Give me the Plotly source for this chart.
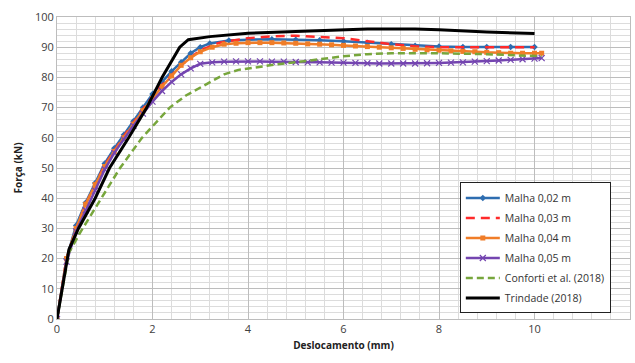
import plotly.graph_objects as go

# ---- data ----
x_m02 = [0, 0.2, 0.4, 0.6, 0.8, 1.0, 1.2, 1.4, 1.6, 1.8, 2.0, 2.2, 2.4, 2.6, 2.8, 3.0, 3.2,
         3.6, 4.0, 4.5, 5.0, 5.5, 6.0, 6.5, 7.0, 7.5, 8.0, 8.5, 9.0, 9.5, 10.0]
y_m02 = [0, 20, 31, 38.5, 45, 51.5, 56.5, 61, 65.5, 70, 74.5, 78.5, 82, 85, 88, 90, 91.2,
         92.2, 92.5, 92.6, 92.5, 92.3, 92.0, 91.5, 91.0, 90.5, 90.2, 90.1, 90.1, 90.1, 90.1]

x_m03 = [0, 0.2, 0.4, 0.6, 0.8, 1.0, 1.4, 1.8, 2.2, 2.6, 3.0, 3.4, 4.0, 4.5, 5.0, 5.5,
         6.0, 6.5, 7.0, 7.5, 8.0, 9.0, 10.0]
y_m03 = [0, 20, 30, 38, 44.5, 51, 60.5, 69.5, 77.5, 84, 89, 91.5, 93, 93.6, 93.8, 93.5,
         93, 92, 91, 90.3, 90, 90, 90]

x_m04 = [0, 0.2, 0.4, 0.6, 0.8, 1.0, 1.2, 1.4, 1.6, 1.8, 2.0, 2.2, 2.4, 2.6, 2.8, 3.0,
         3.25, 3.5, 3.75, 4.0, 4.25, 4.5, 4.75, 5.0, 5.25, 5.5, 5.75, 6.0, 6.25, 6.5, 6.75,
         7.0, 7.25, 7.5, 7.75, 8.0, 8.25, 8.5, 8.75, 9.0, 9.25, 9.5, 9.75, 10.0, 10.15]
y_m04 = [0, 20, 30, 38, 44.5, 50.5, 55.5, 60, 64.5, 69, 73, 77, 80.5, 84, 86.5, 88.5,
         90, 91, 91.3, 91.5, 91.5, 91.5, 91.4, 91.3, 91.1, 91, 90.8, 90.6, 90.4, 90.2, 90,
         89.8, 89.6, 89.3, 89.1, 89, 88.8, 88.6, 88.5, 88.3, 88.2, 88, 88, 88, 88]

x_m05 = [0, 0.2, 0.4, 0.6, 0.8, 1.0, 1.2, 1.4, 1.6, 1.8, 2.0, 2.2, 2.4, 2.6, 2.8, 3.0,
         3.25, 3.5, 3.75, 4.0, 4.25, 4.5, 4.75, 5.0, 5.25, 5.5, 5.75, 6.0, 6.25, 6.5, 6.75,
         7.0, 7.25, 7.5, 7.75, 8.0, 8.25, 8.5, 8.75, 9.0, 9.25, 9.5, 9.75, 10.0, 10.15]
y_m05 = [0, 19, 29, 36, 42.5, 49.5, 55, 59.5, 64, 68, 72, 75.5, 78.5, 81, 83, 84.5,
         85, 85.2, 85.3, 85.3, 85.3, 85.2, 85.2, 85.1, 85, 85, 84.9, 84.9, 84.8, 84.7, 84.6,
         84.6, 84.6, 84.6, 84.7, 84.8, 84.9, 85, 85.2, 85.4, 85.6, 85.8, 86, 86.2, 86.4]

x_conf = [0, 0.25, 0.5, 0.93, 1.32, 1.78, 2.36, 2.7, 3.1, 3.5, 3.8, 4.2, 4.6, 5.0, 5.5,
          6.0, 6.5, 7.0, 8.0, 9.0, 10.15]
y_conf = [0, 22, 29, 40, 50, 60, 70, 74, 77.5, 81, 82.5, 83.5, 84.3, 85, 86,
          87, 87.7, 88, 88, 87.7, 87]

x_trin = [0, 0.25, 0.45, 0.8, 1.1, 1.5, 1.88, 2.2, 2.57, 2.75, 3.2, 4.0, 5.0, 6.0, 6.5,
          7.5, 8.0, 9.0, 10.0]
y_trin = [0, 23, 30, 40, 50, 60, 70, 80, 90, 92.5, 93.5, 94.6, 95.2, 95.6, 96,
          96, 95.8, 95, 94.5]

names = ["Malha 0,02 m", "Malha 0,03 m", "Malha 0,04 m", "Malha 0,05 m",
         "Conforti et al. (2018)", "Trindade (2018)"]

fig = go.Figure()
fig.add_trace(go.Scatter(x=x_m02, y=y_m02, name=names[0], mode="lines+markers",
                         line=dict(color="#2E6DB0", width=2.5),
                         marker=dict(symbol="diamond", size=5, color="#2E6DB0")))
fig.add_trace(go.Scatter(x=x_m03, y=y_m03, name=names[1], mode="lines",
                         line=dict(color="#FF2A2A", width=2.5, dash="9px,6px")))
fig.add_trace(go.Scatter(x=x_m04, y=y_m04, name=names[2], mode="lines+markers",
                         line=dict(color="#F07D28", width=2.5),
                         marker=dict(symbol="square", size=5, color="#F07D28")))
fig.add_trace(go.Scatter(x=x_m05, y=y_m05, name=names[3], mode="lines+markers",
                         line=dict(color="#7445B0", width=2.5),
                         marker=dict(symbol="x-thin", size=6, color="#7445B0",
                                     line=dict(width=1.2, color="#7445B0"))))
fig.add_trace(go.Scatter(x=x_conf, y=y_conf, name=names[4], mode="lines",
                         line=dict(color="#77A63C", width=2.5, dash="7px,4px")))
fig.add_trace(go.Scatter(x=x_trin, y=y_trin, name=names[5], mode="lines",
                         line=dict(color="#000000", width=3)))

for i, tr in enumerate(fig.data):
    tr.legendgroup = "g%d" % i

fig.update_layout(
    width=635, height=363,
    margin=dict(l=57, r=5, t=17, b=44),
    paper_bgcolor="white", plot_bgcolor="white",
    font=dict(family="Open Sans", color="#404040"),
    showlegend=True,
    legend=dict(x=0.703, y=0.452, xanchor="left", yanchor="top",
                bgcolor="white", bordercolor="#222222", borderwidth=1,
                font=dict(size=10.5, color="#333333"), tracegroupgap=1,
                itemwidth=34, traceorder="grouped"),
    xaxis=dict(range=[0, 12], dtick=2, tick0=0, showgrid=True, gridcolor="#BDBDBD",
               gridwidth=1, zeroline=False, showline=True, linecolor="#BDBDBD",
               mirror=True, ticks="", tickfont=dict(size=11, color="#404040"),
               minor=dict(dtick=0.4, showgrid=True, gridcolor="#DCDCDC", gridwidth=1),
               title=dict(text="<b>Deslocamento (mm)</b>", font=dict(size=10, color="#222222"),
                          standoff=6)),
    yaxis=dict(range=[0, 100], dtick=10, tick0=0, showgrid=True, gridcolor="#BDBDBD",
               gridwidth=1, zeroline=False, showline=True, linecolor="#BDBDBD",
               mirror=True, ticks="", tickfont=dict(size=11, color="#404040"),
               minor=dict(dtick=2, showgrid=True, gridcolor="#DCDCDC", gridwidth=1),
               title=dict(text="<b>Força (kN)</b>", font=dict(size=10, color="#222222"),
                          standoff=10)),
)

fig.write_html("out.html")
